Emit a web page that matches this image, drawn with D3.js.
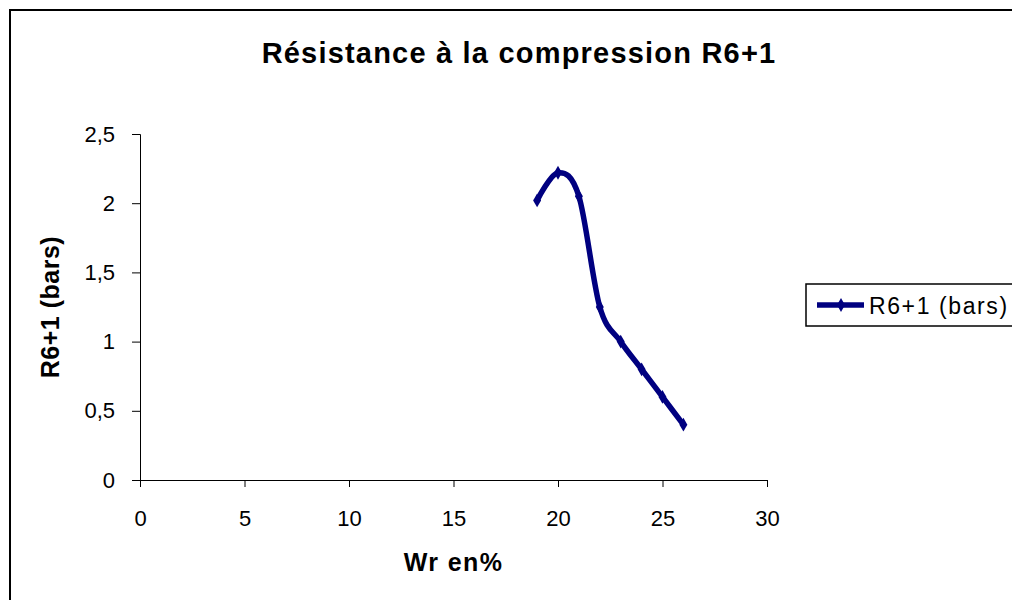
<!DOCTYPE html>
<html>
<head>
<meta charset="utf-8">
<script src="https://cdn.jsdelivr.net/npm/d3@7"></script>
<style>
  body { margin: 0; background: #fff; }
  svg { font-family: "Liberation Sans", Arial, sans-serif; }
</style>
</head>
<body>
<svg width="1012" height="600"></svg>
<script>
// valeurs
var teneurs = [19, 20, 21, 22, 23, 24, 25, 26];
var resistances = [2.02, 2.22, 2.05, 1.25, 1.0, 0.8, 0.6, 0.4];
var xTicks = [0, 5, 10, 15, 20, 25, 30];
var yTicks = [0, 0.5, 1, 1.5, 2, 2.5];
var titre = "Résistance à la compression R6+1";
var nomSerie = "R6+1 (bars)";

const MARGIN = { TOP: 134, LEFT: 140 };
var width = 627, height = 346;

var svg = d3.select("svg");

// cadre du graphique (coupé à droite et en bas)
svg.append("rect")
    .attr("x", 10).attr("y", 10)
    .attr("width", 1020).attr("height", 620)
    .attr("fill", "none")
    .attr("stroke", "#000")
    .attr("stroke-width", 2);

svg.append("text")
    .attr("x", 519).attr("y", 63)
    .attr("text-anchor", "middle")
    .attr("font-size", 29).attr("font-weight", "bold")
    .attr("letter-spacing", 1.2)
    .text(titre);

var g = svg.append("g")
    .attr("transform", "translate(" + MARGIN.LEFT + "," + MARGIN.TOP + ")");

// Armar escalas
var x = d3.scaleLinear().domain([0, 30]).range([0, width]);
var y = d3.scaleLinear().domain([0, 2.5]).range([height, 0]);

var fmt = function(d) { return String(d).replace(".", ","); };

var ax = g.append("g")
    .attr("transform", "translate(0," + height + ")")
    .call(d3.axisBottom(x).tickValues(xTicks).tickSize(7).tickPadding(23).tickFormat(fmt));
var ay = g.append("g")
    .call(d3.axisLeft(y).tickValues(yTicks).tickSize(8).tickPadding(17).tickFormat(fmt));

[ax, ay].forEach(function(a) {
    a.select(".domain").attr("stroke", "#000");
    a.selectAll(".tick line").attr("stroke", "#000");
    a.selectAll("text").attr("font-size", 22).attr("fill", "#000")
        .attr("font-family", "Liberation Sans, Arial, sans-serif");
});

svg.append("text")
    .attr("x", MARGIN.LEFT + width / 2).attr("y", 571)
    .attr("text-anchor", "middle")
    .attr("font-size", 25).attr("font-weight", "bold")
    .attr("letter-spacing", 1.4)
    .text("Wr en%");

svg.append("text")
    .attr("transform", "translate(59," + (MARGIN.TOP + height / 2) + ") rotate(-90)")
    .attr("text-anchor", "middle")
    .attr("font-size", 25).attr("font-weight", "bold")
    .attr("letter-spacing", 0.5)
    .text(nomSerie);

var points = teneurs.map(function(t, i) { return [t, resistances[i]]; });

var ligne = d3.line()
    .x(function(d) { return x(d[0]); })
    .y(function(d) { return y(d[1]); })
    .curve(d3.curveCardinal.tension(0));

g.append("path")
    .datum(points)
    .attr("fill", "none")
    .attr("stroke", "#000080")
    .attr("stroke-width", 5.5)
    .attr("stroke-linejoin", "round")
    .attr("d", ligne);

var losange = d3.symbol().type(d3.symbolDiamond).size(55);
g.selectAll(".pt")
    .data(points)
    .enter().append("path")
    .attr("class", "pt")
    .attr("transform", function(d) { return "translate(" + x(d[0]) + "," + y(d[1]) + ")"; })
    .attr("d", losange)
    .attr("fill", "#000080");

// légende
var leg = svg.append("g").attr("transform", "translate(806,284)");
leg.append("rect")
    .attr("width", 220).attr("height", 42)
    .attr("fill", "#fff").attr("stroke", "#000").attr("stroke-width", 1.5);
leg.append("line")
    .attr("x1", 11).attr("x2", 58).attr("y1", 21).attr("y2", 21)
    .attr("stroke", "#000080").attr("stroke-width", 5.5);
leg.append("path")
    .attr("transform", "translate(35,21)")
    .attr("d", losange).attr("fill", "#000080");
leg.append("text")
    .attr("x", 63).attr("y", 30)
    .attr("font-size", 23)
    .attr("letter-spacing", 1.6)
    .text(nomSerie);
</script>
</body>
</html>
